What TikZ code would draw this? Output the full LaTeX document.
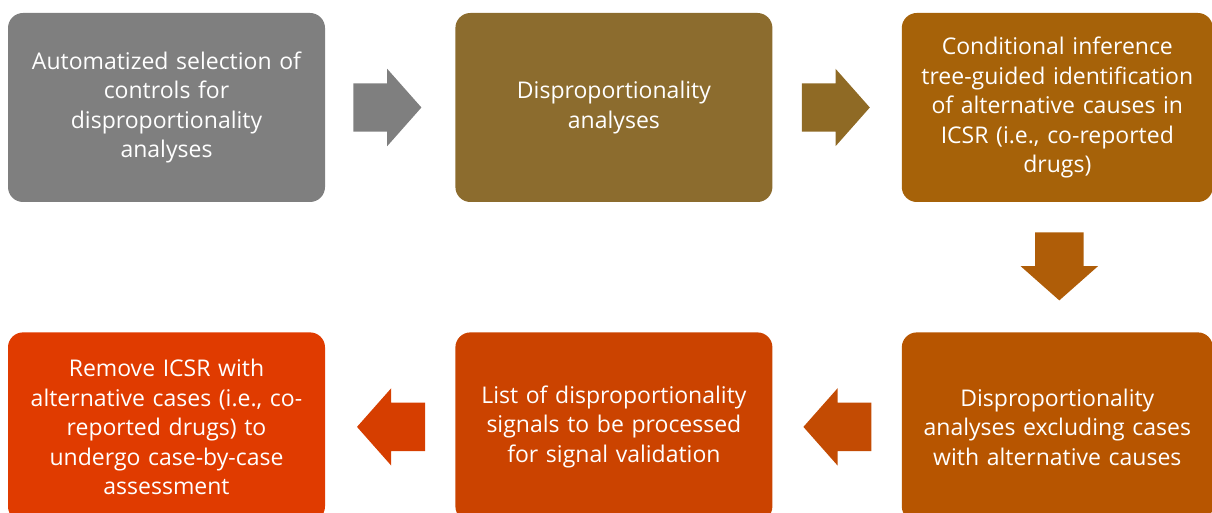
\documentclass[tikz,border=0pt]{standalone}
\usepackage{fontspec}
\setmainfont{Open Sans}
\usetikzlibrary{positioning,shapes.arrows,calc}

\definecolor{boxgray}{HTML}{7F7F7F}
\definecolor{boxolive}{HTML}{8C6C2E}
\definecolor{arrowolive}{HTML}{8F6A25}
\definecolor{boxamber}{HTML}{A66209}
\definecolor{arrowamber}{HTML}{AF5D08}
\definecolor{boxrust}{HTML}{B75500}
\definecolor{arrowrust}{HTML}{C34B03}
\definecolor{boxorange}{HTML}{CB4300}
\definecolor{arroworange}{HTML}{D63E00}
\definecolor{boxred}{HTML}{E03B00}

\begin{document}
\begin{tikzpicture}[x=1pt,y=1pt,
    stepbox/.style={rectangle, rounded corners=15pt, minimum width=317pt,
      minimum height=189pt, text width=305pt, align=center, inner sep=0pt,
      text=white, font=\fontsize{23}{29.5}\selectfont},
    blockarrow/.style={single arrow, minimum height=68pt, minimum width=77pt,
      single arrow head extend=14.5pt, single arrow tip angle=97,
      inner xsep=0pt, inner ysep=24pt, anchor=tail}]

    \useasboundingbox (0,0) rectangle (1212,513);

    % Top row
    \node[stepbox, fill=boxgray] (s1) at (166.5,405.5)
      {Automatized selection of\\ controls for\\ disproportionality\\ analyses};
    \node[stepbox, fill=boxolive, right=130pt of s1] (s2)
      {Disproportionality\\ analyses};
    \node[stepbox, fill=boxamber, minimum width=311pt, right=129pt of s2] (s3)
      {Conditional inference\\ tree-guided identification\\ of alternative causes in\\ ICSR (i.e., co-reported\\ drugs)};
    % Bottom row
    \node[stepbox, fill=boxrust, minimum width=311pt, below=130pt of s3] (s6)
      {Disproportionality\\ analyses excluding cases\\ with alternative causes};
    \node[stepbox, fill=boxorange, left=129pt of s6] (s5)
      {List of disproportionality\\ signals to be processed\\ for signal validation};
    \node[stepbox, fill=boxred, left=130pt of s5] (s4)
      {Remove ICSR with\\ alternative cases (i.e., co-\\ reported drugs) to\\ undergo case-by-case\\ assessment};

    % Block arrows between the steps
    \node[blockarrow, fill=boxgray] (a12) at ($(s1.east)+(28pt,0)$) {};
    \node[blockarrow, fill=arrowolive] (a23) at ($(s2.east)+(29pt,0)$) {};
    \node[blockarrow, fill=arrowamber, shape border rotate=270,
      inner xsep=24pt, inner ysep=0pt] (a36) at ($(s3.south)+(2pt,-30pt)$) {};
    \node[blockarrow, fill=arrowrust, shape border rotate=180] (a65)
      at ($(s6.west)+(-30pt,0)$) {};
    \node[blockarrow, fill=arroworange, shape border rotate=180] (a54)
      at ($(s5.west)+(-30pt,0)$) {};

\end{tikzpicture}
\end{document}
